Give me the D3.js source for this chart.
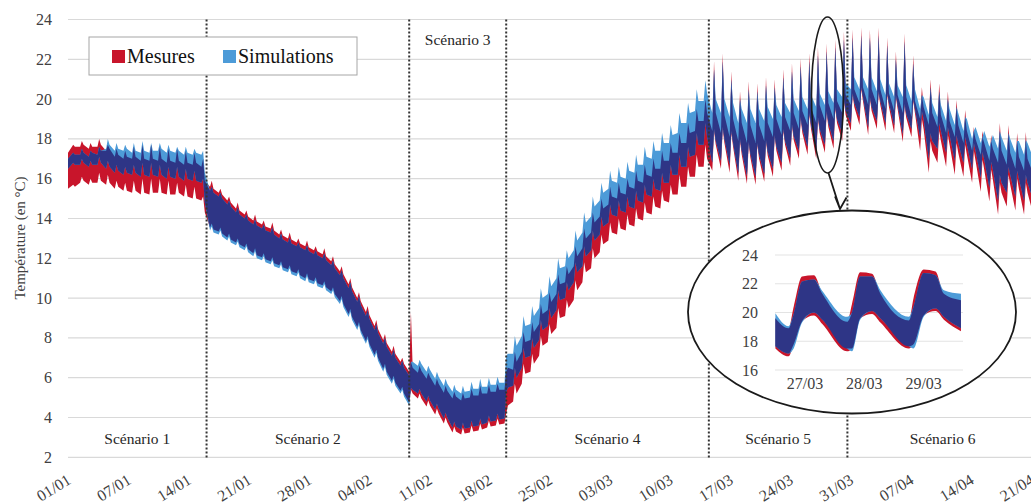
<!DOCTYPE html>
<html><head><meta charset="utf-8">
<script src="https://cdnjs.cloudflare.com/ajax/libs/d3/7.8.5/d3.min.js"></script>
<style>
body{margin:0;background:#fff}
svg{display:block}
</style>
</head><body>
<svg id="chart" width="1031" height="504" font-family="'Liberation Serif','DejaVu Serif','Times New Roman',serif"></svg>
<script>
// ---------- DATA ----------
// Three samples per day (morning trough, afternoon peak, evening), days 01/01 .. 21/04/2016
const sampleHours = [9.6, 14.4, 19.2];

const mesuresMax = [
 17.3,17.7,17.6, 17.6,17.9,17.7, 17.5,17.8,17.6, 17.6,18.0,17.7, 17.4,17.7,17.5, 17.1,17.5,17.2, 17.0,17.4,17.1, 17.0,17.6,17.1, 16.9,17.7,17.0, 16.9,17.7,17.0, 16.9,17.6,17.0, 16.8,17.5,16.9, 16.8,17.5,16.9, 16.7,17.4,16.8, 16.7,17.3,16.8, 16.6,17.0,15.9,
 15.6,15.9,15.5, 15.3,15.5,15.2, 14.9,15.1,14.8, 14.5,14.8,14.4, 14.2,14.4,14.1, 13.9,14.2,13.85, 13.7,13.9,13.6, 13.5,13.8,13.4, 13.2,13.45,13.15, 13.0,13.3,12.95, 12.8,13.0,12.75, 12.6,12.9,12.55, 12.4,12.6,12.35, 12.2,12.5,12.1, 11.85,12.1,11.7, 11.35,11.6,11.2, 10.7,11.0,10.55, 10.0,10.3,9.85, 9.3,9.6,9.15, 8.6,8.9,8.45, 7.9,8.2,7.75, 7.3,7.6,7.2, 6.8,7.0,6.7,
 6.3,9.3,6.5,
 6.25,6.6,6.35, 5.95,6.25,6.05, 5.6,5.95,5.7, 5.25,5.6,5.35, 4.95,5.3,5.05, 4.85,5.25,4.95, 5.0,5.45,5.1, 5.1,5.6,5.2, 5.2,5.65,5.3, 5.3,5.7,5.4, 5.4,6.3,6.5,
 6.4,7.3,6.8, 7.3,8.3,7.8, 7.9,8.8,8.3, 8.7,9.7,9.2, 9.4,10.3,9.8, 10.2,11.2,10.7, 10.8,11.6,11.2, 11.6,12.6,12.1, 12.5,13.5,13.0, 13.3,14.3,13.8, 14.1,15.0,14.5, 14.7,15.6,15.1, 15.0,15.8,15.3, 15.2,16.0,15.6, 15.5,16.4,15.9, 15.8,16.7,16.2, 16.1,17.0,16.5, 16.5,17.4,16.9, 16.9,17.8,17.3, 17.3,18.3,17.8, 17.8,18.8,18.3, 18.4,19.5,18.9, 18.9,20.0,19.3,
 18.4,21.9,19.3, 18.3,22.3,19.2, 18.1,21.4,19.0, 17.9,20.4,18.8, 17.8,20.9,18.7, 17.8,20.8,18.7, 17.9,21.1,18.8, 18.1,21.0,19.0, 18.2,21.5,19.1, 18.4,21.8,19.3, 18.5,22.05,19.4, 18.7,22.3,19.6, 18.8,22.6,19.7, 18.9,22.8,19.8, 19.0,23.0,19.9, 19.3,23.4,20.2,
 19.7,23.5,20.5, 19.8,23.6,20.6, 19.7,23.5,20.5, 19.7,23.6,20.5, 19.5,23.1,20.3, 19.4,22.4,20.2, 19.3,23.3,20.1, 19.1,22.2,19.9, 19.0,20.6,19.6, 18.7,21.0,19.3, 18.6,20.8,19.2, 18.3,20.4,18.9, 18.1,19.95,18.7, 17.8,19.45,18.4, 17.4,18.6,18.0, 17.2,18.4,17.8, 16.9,18.2,17.5, 16.8,18.8,17.4, 16.7,18.7,17.3, 16.5,18.3,17.1, 16.4,18.35,17.0, 16.3,18.0,16.9
];
const mesuresMin = [
 15.5,15.7,15.6, 15.8,16.1,15.9, 15.7,16.0,15.8, 15.8,16.3,15.9, 15.7,16.2,15.8, 15.5,15.9,15.6, 15.4,15.8,15.4, 15.3,15.9,15.4, 15.2,16.0,15.3, 15.2,16.0,15.3, 15.3,16.0,15.3, 15.2,15.9,15.2, 15.2,15.8,15.3, 15.1,15.7,15.1, 15.0,15.6,15.0, 14.9,15.1,14.3,
 13.55,13.75,13.45, 13.35,13.55,13.25, 13.05,13.25,12.95, 12.8,13.0,12.7, 12.55,12.75,12.45, 12.25,12.5,12.15, 12.05,12.25,11.95, 11.85,12.05,11.75, 11.65,11.85,11.55, 11.45,11.65,11.35, 11.25,11.45,11.15, 11.0,11.25,10.95, 10.85,11.05,10.75, 10.65,10.85,10.55, 10.35,10.55,10.2, 9.85,10.1,9.7, 9.2,9.45,9.05, 8.55,8.8,8.4, 7.85,8.1,7.7, 7.15,7.4,7.0, 6.45,6.7,6.3, 5.85,6.1,5.75, 5.35,5.55,5.2,
 4.75,5.4,5.2,
 4.95,5.2,4.95, 4.55,4.85,4.6, 4.15,4.45,4.2, 3.7,4.0,3.75, 3.25,3.55,3.3, 3.15,3.5,3.2, 3.25,3.6,3.3, 3.35,3.7,3.4, 3.5,3.85,3.55, 3.6,3.95,3.65, 3.7,4.2,4.6,
 4.8,5.7,5.2, 5.7,6.7,6.2, 6.3,7.2,6.7, 7.1,8.1,7.6, 7.8,8.7,8.2, 8.5,9.5,9.0, 9.1,9.9,9.5, 9.9,10.9,10.4, 10.8,11.8,11.3, 11.5,12.5,12.0, 12.3,13.2,12.7, 12.9,13.8,13.3, 13.2,14.0,13.5, 13.4,14.2,13.7, 13.6,14.5,14.0, 13.9,14.8,14.3, 14.2,15.1,14.6, 14.5,15.4,14.9, 14.8,15.7,15.2, 15.2,16.2,15.6, 15.6,16.6,16.1, 16.1,17.2,16.6, 16.6,17.7,17.0,
 16.4,18.4,17.7, 16.5,18.5,17.8, 16.3,18.3,17.6, 15.9,17.9,17.2, 15.75,17.75,17.05, 15.7,17.7,17.0, 15.85,17.85,17.15, 16.1,18.1,17.4, 16.4,18.4,17.7, 16.65,18.65,17.95, 17.0,19.0,18.3, 17.2,19.2,18.5, 17.0,19.0,18.3, 17.3,19.3,18.6, 17.5,19.5,18.8, 17.9,19.9,19.2,
 18.4,20.2,19.6, 18.7,20.5,19.9, 18.2,20.0,19.4, 18.5,20.3,19.7, 18.4,20.2,19.6, 18.3,20.1,19.5, 17.85,19.65,19.05, 18.1,19.9,19.3, 17.4,19.0,18.5, 16.3,17.9,17.4, 16.8,18.4,17.9, 16.6,18.2,17.7, 16.2,17.8,17.3, 16.1,17.7,17.2, 15.8,17.4,16.9, 15.35,16.95,16.45, 14.85,16.45,15.95, 14.2,15.8,15.3, 14.6,16.2,15.7, 14.4,16.0,15.5, 14.2,15.8,15.3, 14.3,15.9,15.4
];
const simulationsMax = [
 17.0,17.3,17.2, 17.2,17.5,17.3, 17.1,17.4,17.3, 17.2,17.6,17.4, 17.5,18.0,17.7, 17.4,17.8,17.5, 17.4,17.7,17.5, 17.3,17.8,17.4, 17.3,17.9,17.4, 17.3,17.8,17.4, 17.4,17.8,17.5, 17.3,17.7,17.4, 17.3,17.6,17.4, 17.2,17.6,17.3, 17.2,17.5,17.3, 17.2,17.4,16.3,
 15.4,15.6,15.3, 15.1,15.3,15.0, 14.7,14.9,14.6, 14.3,14.55,14.2, 14.0,14.2,13.9, 13.7,13.95,13.65, 13.5,13.7,13.4, 13.3,13.55,13.2, 13.0,13.25,12.95, 12.8,13.05,12.75, 12.6,12.8,12.55, 12.4,12.65,12.35, 12.2,12.4,12.15, 12.0,12.25,11.9, 11.65,11.9,11.5, 11.15,11.4,11.0, 10.5,10.8,10.35, 9.8,10.1,9.65, 9.1,9.4,8.95, 8.4,8.7,8.25, 7.7,8.0,7.55, 7.1,7.4,7.0, 6.6,6.85,6.5,
 6.1,6.8,6.8,
 6.6,6.9,6.7, 6.3,6.6,6.4, 5.95,6.3,6.05, 5.6,5.95,5.7, 5.3,5.65,5.4, 5.2,5.6,5.3, 5.35,5.8,5.45, 5.45,5.95,5.55, 5.55,6.0,5.65, 5.65,6.05,5.75, 5.75,7.1,7.2,
 7.2,8.1,7.6, 8.1,9.1,8.6, 8.7,9.6,9.1, 9.5,10.5,10.0, 10.2,11.1,10.6, 11.0,12.0,11.5, 11.6,12.4,12.0, 12.4,13.4,12.9, 13.3,14.3,13.8, 14.1,15.1,14.6, 14.9,15.8,15.3, 15.5,16.4,15.9, 15.8,16.6,16.1, 16.0,16.85,16.4, 16.3,17.2,16.7, 16.7,17.6,17.1, 17.0,17.9,17.4, 17.4,18.3,17.8, 17.8,18.7,18.2, 18.3,19.3,18.8, 18.8,19.8,19.3, 19.4,20.5,19.9, 19.9,20.95,20.3,
 19.3,21.5,20.0, 19.3,21.9,20.0, 19.1,21.0,19.8, 18.8,20.0,19.5, 18.8,20.5,19.5, 18.8,20.4,19.5, 18.9,20.7,19.6, 19.0,20.6,19.7, 19.1,21.1,19.8, 19.3,21.4,20.0, 19.4,21.65,20.1, 19.5,21.9,20.2, 19.6,22.2,20.3, 19.7,22.4,20.4, 19.8,22.6,20.5, 20.1,23.0,20.8,
 20.5,23.1,21.1, 20.5,23.2,21.1, 20.5,23.1,21.1, 20.4,23.2,21.0, 20.2,22.7,20.8, 20.1,22.0,20.7, 20.1,22.9,20.7, 19.9,21.8,20.5, 19.5,20.2,20.1, 19.2,20.6,19.8, 19.1,20.4,19.7, 18.9,20.0,19.5, 18.7,19.6,19.3, 18.4,19.1,19.0, 18.0,18.4,18.6, 17.8,18.1,18.4, 17.6,17.9,18.2, 17.5,18.4,18.1, 17.4,18.3,18.0, 17.3,17.9,17.9, 17.2,17.95,17.8, 17.1,17.6,17.7
];
const simulationsMin = [
 16.5,16.8,16.7, 16.7,17.0,16.8, 16.6,16.9,16.7, 16.7,17.1,16.8, 16.5,16.9,16.6, 16.3,16.7,16.4, 16.2,16.6,16.3, 16.2,16.7,16.3, 16.1,16.8,16.2, 16.1,16.8,16.2, 16.1,16.7,16.2, 16.0,16.6,16.1, 16.0,16.6,16.1, 15.9,16.5,16.0, 15.9,16.4,15.9, 15.8,16.0,14.8,
 13.4,13.6,13.3, 13.2,13.4,13.1, 12.9,13.1,12.8, 12.65,12.85,12.55, 12.4,12.6,12.3, 12.1,12.35,12.0, 11.9,12.1,11.8, 11.7,11.9,11.6, 11.5,11.7,11.4, 11.3,11.5,11.2, 11.1,11.3,11.0, 10.85,11.1,10.8, 10.7,10.9,10.6, 10.5,10.7,10.4, 10.2,10.4,10.05, 9.7,9.95,9.55, 9.05,9.3,8.9, 8.4,8.65,8.25, 7.7,7.95,7.55, 7.0,7.25,6.85, 6.3,6.55,6.15, 5.7,5.95,5.6, 5.2,5.4,5.05,
 4.6,5.5,5.4,
 5.2,5.45,5.2, 4.8,5.1,4.85, 4.4,4.7,4.45, 3.95,4.25,4.0, 3.5,3.8,3.55, 3.4,3.75,3.45, 3.5,3.85,3.55, 3.6,3.95,3.65, 3.75,4.1,3.8, 3.85,4.2,3.9, 3.95,5.3,5.5,
 5.6,6.5,6.0, 6.5,7.5,7.0, 7.1,8.0,7.5, 7.9,8.9,8.4, 8.6,9.5,9.0, 9.4,10.4,9.9, 10.0,10.8,10.4, 10.8,11.8,11.3, 11.6,12.6,12.1, 12.4,13.4,12.9, 13.2,14.1,13.6, 13.8,14.7,14.2, 14.1,14.9,14.4, 14.3,15.1,14.6, 14.5,15.4,14.9, 14.8,15.7,15.2, 15.1,16.0,15.5, 15.4,16.3,15.8, 15.8,16.7,16.2, 16.2,17.2,16.6, 16.6,17.6,17.1, 17.2,18.3,17.7, 17.7,18.8,18.1,
 16.8,18.5,17.9, 16.9,18.6,18.0, 16.7,18.4,17.8, 16.3,18.0,17.4, 16.15,17.85,17.25, 16.1,17.8,17.2, 16.25,17.95,17.35, 16.5,18.2,17.6, 16.8,18.5,17.9, 17.05,18.75,18.15, 17.4,19.1,18.5, 17.6,19.3,18.7, 17.4,19.1,18.5, 17.7,19.4,18.8, 17.9,19.6,19.0, 18.3,20.0,19.4,
 18.8,20.3,19.8, 19.1,20.6,20.1, 18.6,20.1,19.6, 18.9,20.4,19.9, 18.8,20.3,19.8, 18.7,20.2,19.7, 18.25,19.75,19.25, 18.5,20.0,19.5, 18.1,19.4,19.0, 17.0,18.3,17.9, 17.5,18.8,18.4, 17.3,18.6,18.2, 16.9,18.2,17.8, 16.8,18.1,17.7, 16.5,17.8,17.4, 16.05,17.35,16.95, 15.55,16.85,16.45, 14.9,16.2,15.8, 15.3,16.6,16.2, 15.1,16.4,16.0, 14.9,16.2,15.8, 15.0,16.3,15.9
];

const yTicks = [2,4,6,8,10,12,14,16,18,20,22,24];
const xTickLabels = ["01/01","07/01","14/01","21/01","28/01","04/02","11/02","18/02","25/02","03/03","10/03","17/03","24/03","31/03","07/04","14/04","21/04"];
const scenarioNames = ["Scénario 1","Scénario 2","Scénario 3","Scénario 4","Scénario 5","Scénario 6"];
const scenarioBounds = ["2016-01-01 00:00","2016-01-17 00:00","2016-02-09 09:36","2016-02-20 14:24","2016-03-15 00:00","2016-03-31 00:00","2016-04-22 00:00"];
const legendNames = ["Mesures","Simulations"];

// zoom inset: 27/03 - 29/03
const insetHours   = [0, 5.3, 7.4, 10.8, 15.6, 19.0, 29.0, 31.0, 34.3, 39.1, 42.5, 54.0, 55.9, 60.0, 64.8, 68.2, 75.1];
const insetMesMax  = [19.6, 18.9, 20.4, 22.5, 22.6, 21.3, 19.35, 20.6, 22.8, 22.7, 21.3, 19.45, 21.0, 23.0, 22.85, 21.3, 20.85];
const insetSimMax  = [19.95, 19.05, 19.9, 22.15, 22.3, 21.5, 19.7, 20.0, 22.5, 22.5, 21.55, 19.7, 20.4, 22.75, 22.6, 21.55, 21.3];
const insetMesMin  = [17.5, 16.95, 17.8, 19.4, 19.8, 19.2, 17.3, 17.5, 19.6, 19.9, 19.3, 17.5, 17.8, 19.8, 20.1, 19.5, 18.7];
const insetSimMin  = [17.65, 17.15, 17.5, 19.3, 20.0, 19.5, 17.5, 17.3, 19.5, 20.1, 19.6, 17.65, 17.5, 19.7, 20.3, 19.7, 18.9];
const insetYTicks = [16,18,20,22,24];
const insetXTickLabels = ["27/03","28/03","29/03"];
const insetXTicks = ["2016-03-27 12:00","2016-03-28 12:00","2016-03-29 12:00"];

// ---------- CHART ----------
const RED = "#c8152b", LBLUE = "#4d9bd8", NAVY = "#2e3586", GRID = "#d9d9d9", TXT = "#404040";
const parse = d3.timeParse("%Y-%m-%d %H:%M");
const start = parse("2016-01-01 00:00");
const svg = d3.select("#chart");

const x = d3.scaleTime().domain([start, parse("2016-04-23 00:00")]).range([68, 68 + 113 * 8.66]);
const y = d3.scaleLinear().domain([2, 24]).range([457.3, 19.5]);

function build(minArr, maxArr) {
  return minArr.map((v, i) => {
    const day = Math.floor(i / 3);
    const h = i === 0 ? 0 : day * 24 + sampleHours[i % 3];
    return { t: new Date(start.getTime() + h * 3600e3), lo: v, hi: maxArr[i] };
  });
}
const mes = build(mesuresMin, mesuresMax);
const sim = build(simulationsMin, simulationsMax);
const both = mes.map((d, i) => {
  const lo = Math.max(d.lo, sim[i].lo), hi = Math.min(d.hi, sim[i].hi);
  return { t: d.t, lo, hi: Math.max(lo, hi) };
});

// grid
svg.append("g").selectAll("line").data(yTicks).join("line")
  .attr("x1", 68).attr("x2", 1031)
  .attr("y1", d => y(d)).attr("y2", d => y(d))
  .attr("stroke", GRID).attr("stroke-width", 1.2);

svg.append("g").selectAll("text").data(yTicks).join("text")
  .attr("x", 52).attr("y", d => y(d) + 5.5)
  .attr("text-anchor", "end").attr("font-size", 16).attr("fill", TXT)
  .text(d => d);

svg.append("text")
  .attr("transform", "translate(24.5,238) rotate(-90)")
  .attr("text-anchor", "middle").attr("font-size", 15).attr("fill", TXT)
  .text("Température (en °C)");

// bands
svg.append("defs").append("clipPath").attr("id", "plotclip")
  .append("rect").attr("x", 68).attr("y", 0).attr("width", 963).attr("height", 460);
const area = d3.area().x(d => x(d.t)).y0(d => y(d.lo)).y1(d => y(d.hi));
const bands = svg.append("g").attr("clip-path", "url(#plotclip)");
bands.append("path").datum(mes).attr("d", area).attr("fill", RED);
bands.append("path").datum(sim).attr("d", area).attr("fill", LBLUE);
bands.append("path").datum(both).attr("d", area).attr("fill", NAVY);

// scenario dividers
const bounds = scenarioBounds.map(parse);
svg.append("g").selectAll("line").data(bounds.slice(1, 6)).join("line")
  .attr("x1", d => x(d)).attr("x2", d => x(d))
  .attr("y1", y(24)).attr("y2", y(2) + 1)
  .attr("stroke", "#333").attr("stroke-width", 2).attr("stroke-dasharray", "2,2");

// scenario labels
svg.append("g").selectAll("text").data(scenarioNames).join("text")
  .attr("x", (d, i) => (x(bounds[i]) + Math.min(x(bounds[i + 1]), 1040)) / 2)
  .attr("y", (d, i) => i === 2 ? 45 : 444)
  .attr("text-anchor", "middle").attr("font-size", 15.5).attr("fill", "#262626")
  .text(d => d);

// x tick labels
const xl = d3.scalePoint().domain(xTickLabels).range([69, 69 + 60.2 * 16]);
svg.append("g").selectAll("text").data(xTickLabels).join("text")
  .attr("transform", d => `translate(${xl(d)},478) rotate(-32)`)
  .attr("text-anchor", "end").attr("dy", "0.35em")
  .attr("font-size", 16).attr("fill", TXT)
  .text(d => d);

// legend
const lg = svg.append("g");
lg.append("rect").attr("x", 89).attr("y", 37).attr("width", 268).attr("height", 38)
  .attr("fill", "#fff").attr("stroke", "#a6a6a6").attr("stroke-width", 1);
const legendColors = [RED, LBLUE];
const legendX = [112, 223];
legendNames.forEach((n, i) => {
  lg.append("rect").attr("x", legendX[i]).attr("y", 50).attr("width", 13).attr("height", 13).attr("fill", legendColors[i]);
  lg.append("text").attr("x", legendX[i] + 15).attr("y", 63).attr("font-size", 20).attr("fill", "#111").text(n);
});

// small highlight ellipse + arrow
svg.append("ellipse").attr("cx", 827.5).attr("cy", 95).attr("rx", 16).attr("ry", 78)
  .attr("fill", "none").attr("stroke", "#1a1a1a").attr("stroke-width", 1.6);
svg.append("path").attr("d", "M828.5,173 L840,209 M835,196.5 L840,209 L846.5,197.5")
  .attr("fill", "none").attr("stroke", "#1a1a1a").attr("stroke-width", 1.8);

// inset ellipse
svg.append("ellipse").attr("cx", 852).attr("cy", 312).attr("rx", 164).attr("ry", 101.5)
  .attr("fill", "#fff").attr("stroke", "#1a1a1a").attr("stroke-width", 1.8);

// inset chart
const ins = svg.append("g");
const i0 = parse("2016-03-27 00:00");
const ix = d3.scaleTime().domain([i0, parse("2016-03-30 00:00")]).range([775.4, 775.4 + 3 * 59.3]);
const iy = d3.scaleLinear().domain([16, 24]).range([370, 255]);
ins.selectAll("line.g").data(insetYTicks).join("line")
  .attr("x1", 775).attr("x2", 963).attr("y1", d => iy(d)).attr("y2", d => iy(d))
  .attr("stroke", "#e3e3e3").attr("stroke-width", 1);
ins.selectAll("text.y").data(insetYTicks).join("text")
  .attr("x", 758).attr("y", d => iy(d) + 5.5).attr("text-anchor", "end")
  .attr("font-size", 16).attr("fill", TXT).text(d => d);
ins.selectAll("text.x").data(insetXTickLabels).join("text")
  .attr("x", (d, i) => ix(parse(insetXTicks[i]))).attr("y", 389)
  .attr("text-anchor", "middle").attr("font-size", 16).attr("fill", TXT).text(d => d);
const iMes = insetHours.map((h, i) => ({ t: new Date(i0.getTime() + h * 3600e3), lo: insetMesMin[i], hi: insetMesMax[i] }));
const iSim = insetHours.map((h, i) => ({ t: new Date(i0.getTime() + h * 3600e3), lo: insetSimMin[i], hi: insetSimMax[i] }));
const iBoth = iMes.map((d, i) => { const lo = Math.max(d.lo, iSim[i].lo), hi = Math.min(d.hi, iSim[i].hi); return { t: d.t, lo, hi: Math.max(lo, hi) }; });
const iArea = d3.area().x(d => ix(d.t)).y0(d => iy(d.lo)).y1(d => iy(d.hi)).curve(d3.curveMonotoneX);
ins.append("path").datum(iMes).attr("d", iArea).attr("fill", RED);
ins.append("path").datum(iSim).attr("d", iArea).attr("fill", LBLUE);
ins.append("path").datum(iBoth).attr("d", iArea).attr("fill", NAVY);
</script>
</body></html>
